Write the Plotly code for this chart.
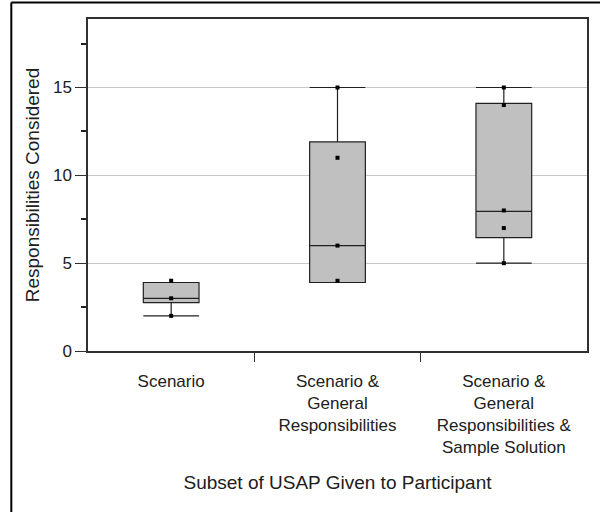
import plotly.graph_objects as go

categories = ["Scenario",
              "Scenario &<br>General<br>Responsibilities",
              "Scenario &<br>General<br>Responsibilities &<br>Sample Solution"]
cat_pos = [0, 1, 2]
q1 = [2.75, 3.9, 6.45]
median = [3.0, 6.0, 7.95]
q3 = [3.9, 11.9, 14.1]
lowerfence = [2.0, 3.9, 5.0]
upperfence = [3.9, 15.0, 15.0]

point_cat = [0, 0, 0, 1, 1, 1, 1, 2, 2, 2, 2, 2]
point_val = [2, 3, 4, 4, 6, 11, 15, 5, 7, 8, 14, 15]

FONT = "Liberation Sans, Arial, sans-serif"

fig = go.Figure()
fig.add_trace(go.Box(
    x=cat_pos, q1=q1, median=median, q3=q3,
    lowerfence=lowerfence, upperfence=upperfence,
    fillcolor="#c0c0c0", line=dict(color="#202020", width=1.2),
    width=0.335, whiskerwidth=1, boxpoints=False, hoverinfo="skip",
    showlegend=False,
))
fig.add_trace(go.Scatter(
    x=point_cat, y=point_val, mode="markers",
    marker=dict(symbol="square", size=4, color="black"),
    showlegend=False, hoverinfo="skip",
))

fig.update_layout(
    width=600, height=512,
    margin=dict(l=88, r=11, t=19, b=161),
    paper_bgcolor="white", plot_bgcolor="white",
    font=dict(family=FONT, size=17, color="#202020"),
    showlegend=False,
)
fig.update_xaxes(
    range=[-0.5, 2.5], tickvals=cat_pos, ticktext=categories,
    showline=True, linecolor="#303030", linewidth=1.5, mirror=True,
    ticks="", showgrid=False, zeroline=False, ticklabelstandoff=14,
    minor=dict(tickvals=[0.5, 1.5], ticks="outside", ticklen=9,
               tickcolor="#303030", showgrid=False),
    tickfont=dict(size=17),
    title=dict(text="Subset of USAP Given to Participant", font=dict(size=19), standoff=19),
)
fig.update_yaxes(
    range=[0, 18.9], tickvals=[0, 5, 10, 15],
    showline=True, linecolor="#303030", linewidth=1.5, mirror=True,
    ticks="outside", ticklen=11, tickcolor="#303030",
    showgrid=True, gridcolor="#c8c8c8", gridwidth=1, zeroline=False,
    minor=dict(tickvals=[2.5, 7.5, 12.5, 17.5], ticks="outside", ticklen=5,
               tickwidth=2, tickcolor="#202020", showgrid=False),
    tickfont=dict(size=17),
    title=dict(text="Responsibilities Considered", font=dict(size=19), standoff=8),
)

# outer frame (left and top edges visible in the original screenshot)
fig.add_shape(type="line", xref="paper", yref="paper",
              x0=-0.1537, x1=1.05, y0=1.0497, y1=1.0497,
              line=dict(color="black", width=2))
fig.add_shape(type="line", xref="paper", yref="paper",
              x0=-0.1537, x1=-0.1537, y0=1.0497, y1=-0.52,
              line=dict(color="black", width=2))

fig.write_html("out.html", config={"displayModeBar": False},
               post_script="document.body.style.margin='0';")
